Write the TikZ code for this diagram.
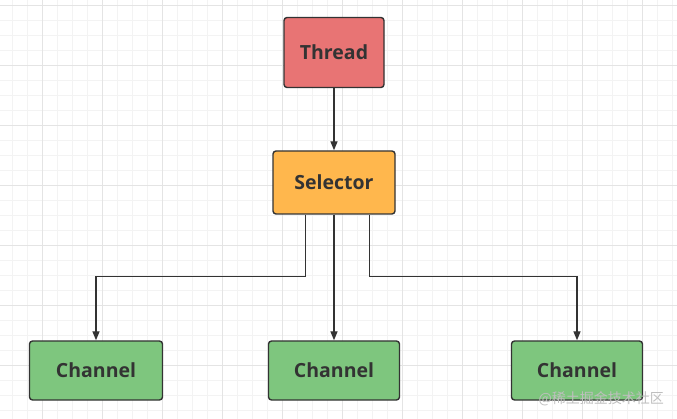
\documentclass[tikz,border=0pt]{standalone}
\usepackage{fontspec}
\setmainfont{Open Sans}
\newfontfamily\cjk{Noto Sans CJK SC}
\usetikzlibrary{arrows.meta}
\definecolor{threadred}{HTML}{E87474}
\definecolor{selorange}{HTML}{FFB74D}
\definecolor{changreen}{HTML}{7EC67E}
\definecolor{inkgrey}{HTML}{333333}
\definecolor{minorgrid}{HTML}{F3F3F3}
\definecolor{majorgrid}{HTML}{E4E4E4}
\tikzset{
	box/.style={draw=inkgrey, line width=1.4pt, rounded corners=3pt, text=inkgrey,
		font=\bfseries\fontsize{19.5}{21}\selectfont, inner sep=0pt},
	link/.style={draw=inkgrey, line width=1.4pt, -{Triangle[length=9pt,width=7pt]}},
}
\begin{document}
\begin{tikzpicture}[x=1pt,y=-1pt]
		\useasboundingbox (0,0) rectangle (677,419);
		\fill[white] (0,0) rectangle (677,419);
		% grid
		\foreach \x in {12.7,27.7,...,677} \draw[minorgrid, line width=0.7pt] (\x,0) -- (\x,419);
		\foreach \y in {5,20,...,419} \draw[minorgrid, line width=0.7pt] (0,\y) -- (677,\y);
		\foreach \x in {42.7,102.7,...,677} \draw[majorgrid, line width=0.7pt] (\x,0) -- (\x,419);
		\foreach \y in {5,65,...,419} \draw[majorgrid, line width=0.7pt] (0,\y) -- (677,\y);
		% boxes
		\node[box, fill=threadred, minimum width=100pt, minimum height=70pt] (thread) at (334,52.5) {Thread};
		\node[box, fill=selorange, minimum width=122pt, minimum height=63pt] (selector) at (334,182.5) {Selector};
		\node[box, fill=changreen, minimum width=133pt, minimum height=59pt] (chanL) at (96,370.5) {Channel};
		\node[box, fill=changreen, minimum width=131pt, minimum height=59pt] (chanM) at (334,370.5) {Channel};
		\node[box, fill=changreen, minimum width=131pt, minimum height=59pt] (chanR) at (577,370.5) {Channel};
		% links
		\draw[link] (thread) -- (selector);
		\draw[link] (selector.south) -- (chanM);
		\draw[link] ([xshift=-28.7pt]selector.south) |- (96,276.7) -- (chanL.north);
		\draw[link] ([xshift=35.3pt]selector.south) |- (577,276.7) -- (chanR.north);
		% watermark
		\node[text=black!25, font=\cjk\fontsize{14}{15}\selectfont, anchor=east, inner sep=0pt] (mark) at (664,399) {@稀土掘金技术社区};
\end{tikzpicture}
\end{document}
